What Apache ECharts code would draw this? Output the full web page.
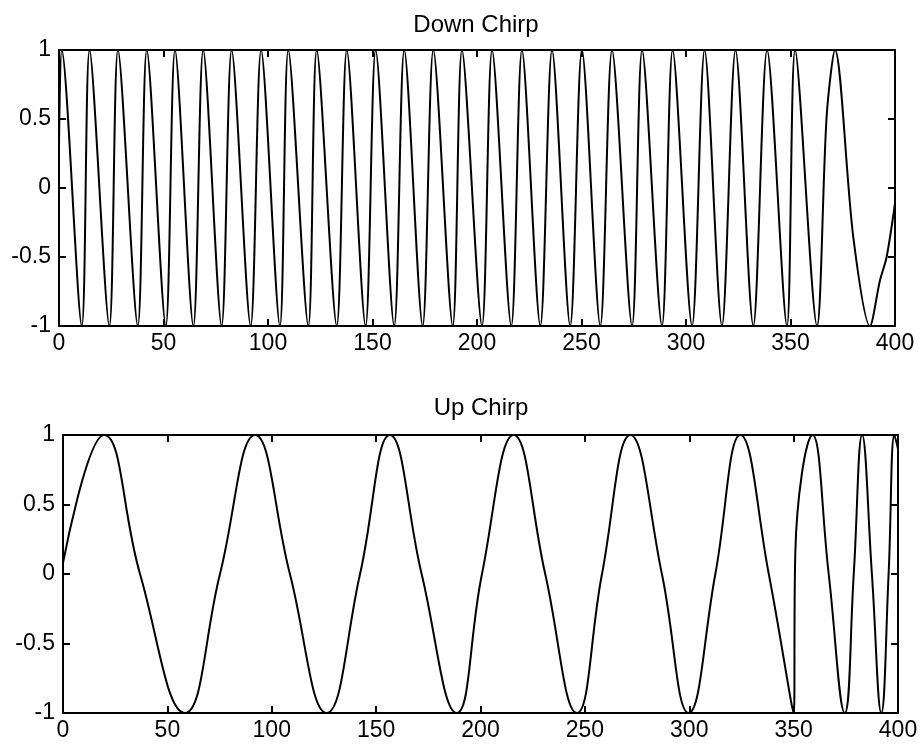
<!DOCTYPE html>
<html><head><meta charset="utf-8">
<script src="https://cdn.jsdelivr.net/npm/echarts@6/dist/echarts.min.js"></script>
<style>html,body{margin:0;padding:0;background:#fff}#c{width:924px;height:748px}</style>
</head><body><div id="c"></div>
<script>
const titles = ['Down Chirp', 'Up Chirp'];
const xTicks = [0, 50, 100, 150, 200, 250, 300, 350, 400];
const yTicks = [-1, -0.5, 0, 0.5, 1];

const downX = [0, 1.3, 10.9, 14.6, 24.1, 28.2, 37.7, 42.0, 51.1, 55.5, 64.3, 69.0, 77.8, 82.6, 91.7, 96.7,
  105.7, 109.7, 119.3, 123.3, 132.9, 137.7, 146.7, 151.5, 160.4, 165.2, 174.0, 179.1, 188.4, 192.8,
  202.4, 207.2, 216.4, 221.5, 230.3, 235.9, 244.6, 250.2, 259.0, 264.6, 274.2, 279.0, 288.5, 293.6,
  302.9, 308.9, 317.2, 323.7, 332.2, 338.8, 348.3, 352.2, 362.7, 367.3, 371.3, 380.0, 388.0, 392.8, 396.0, 400];
const downY = [0.3, 1, -1, 1, -1, 1, -1, 1, -1, 1, -1, 1, -1, 1, -1, 1,
  -1, 1, -1, 1, -1, 1, -1, 1, -1, 1, -1, 1, -1, 1,
  -1, 1, -1, 1, -1, 1, -1, 1, -1, 1, -1, 1, -1, 1,
  -1, 1, -1, 1, -1, 1, -1, 1, -1, 0.52, 1, -0.35, -1, -0.67, -0.5, -0.11];

const upX = [0, 19.7, 36.9, 58.4, 75.2, 92.0, 108.7, 126.3, 142.3, 156.6, 171.8, 188.6,
  200.7, 215.9, 231.0, 246.2, 258.2, 271.8, 286.9, 299.7, 312.5, 324.5, 338.1, 350.0, 350.8,
  359.1, 366.8, 374.5, 378.8, 382.8, 387.5, 392.0, 395.5, 398.3, 400];
const upY = [0.08, 1, 0, -1, 0, 1, 0, -1, 0, 1, 0, -1,
  0, 1, 0, -1, 0, 1, 0, -1, 0, 1, 0, -1, 0.15,
  1, 0, -1, 0, 1, 0, -1, 0, 1, 0.9];

const FONT = '"Liberation Sans", Arial, Helvetica, sans-serif';
const pairs = (xs, ys) => xs.map((x, i) => [x, ys[i]]);

const grids = [
  { left: 59, top: 50, width: 836, height: 276 },
  { left: 63, top: 435, width: 835, height: 278 }
];

function xAx(gi, pos, showLabel) {
  return {
    type: 'value', gridIndex: gi, position: pos,
    min: xTicks[0], max: xTicks[xTicks.length - 1], interval: xTicks[1] - xTicks[0],
    axisLine: { show: true, onZero: false, lineStyle: { color: '#000', width: 2 } },
    axisTick: { show: true, inside: true, length: 7, lineStyle: { color: '#000', width: 2 } },
    axisLabel: { show: showLabel, color: '#000', fontSize: 23, fontFamily: FONT, margin: 6 },
    splitLine: { show: false }
  };
}
function yAx(gi, pos, showLabel) {
  return {
    type: 'value', gridIndex: gi, position: pos,
    min: yTicks[0], max: yTicks[yTicks.length - 1], interval: yTicks[1] - yTicks[0],
    axisLine: { show: true, onZero: false, lineStyle: { color: '#000', width: 2 } },
    axisTick: { show: true, inside: true, length: 7, lineStyle: { color: '#000', width: 2 } },
    axisLabel: { show: showLabel, color: '#000', fontSize: 23, fontFamily: FONT, margin: 8 },
    splitLine: { show: false }
  };
}

const chart = echarts.init(document.getElementById('c'), null, { renderer: 'canvas' });
chart.setOption({
  backgroundColor: '#fff',
  animation: false,
  title: [
    { text: titles[0], left: 471, top: 8, textAlign: 'center',
      textStyle: { fontSize: 24, fontWeight: 'normal', color: '#000', fontFamily: FONT } },
    { text: titles[1], left: 476, top: 391, textAlign: 'center',
      textStyle: { fontSize: 24, fontWeight: 'normal', color: '#000', fontFamily: FONT } }
  ],
  grid: grids,
  xAxis: [xAx(0, 'bottom', true), xAx(0, 'top', false), xAx(1, 'bottom', true), xAx(1, 'top', false)],
  yAxis: [yAx(0, 'left', true), yAx(0, 'right', false), yAx(1, 'left', true), yAx(1, 'right', false)],
  series: [
    { type: 'line', name: titles[0], xAxisIndex: 0, yAxisIndex: 0, data: pairs(downX, downY),
      showSymbol: false, smooth: 0.3,
      lineStyle: { color: '#000', width: 2 } },
    { type: 'line', name: titles[1], xAxisIndex: 2, yAxisIndex: 2, data: pairs(upX, upY),
      showSymbol: false, smooth: 0.45,
      lineStyle: { color: '#000', width: 2 } }
  ]
});
</script>
</body></html>
